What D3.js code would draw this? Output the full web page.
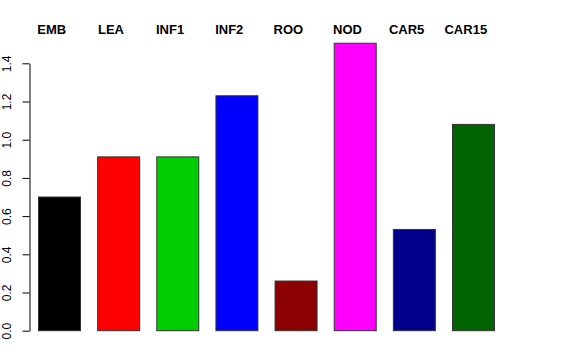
<!DOCTYPE html>
<html>
<head>
<meta charset="utf-8">
<script src="https://cdn.jsdelivr.net/npm/d3@7"></script>
<style>
  body { margin: 0; background: #fff; }
  svg { display: block; font-family: "Liberation Sans", Arial, sans-serif; }
</style>
</head>
<body>
<svg id="chart" width="576" height="360"></svg>
<script>
// Gewebe-Kategorien und Werte
const categories = ['EMB', 'LEA', 'INF1', 'INF2', 'ROO', 'NOD', 'CAR5', 'CAR15'];
const values = [0.70, 0.91, 0.91, 1.23, 0.26, 1.505, 0.53, 1.08];
const barColors = ['#000000', '#ff0000', '#00cd00', '#0000ff', '#8b0000', '#ff00ff', '#00008b', '#006400'];
const yTicks = [0.0, 0.2, 0.4, 0.6, 0.8, 1.0, 1.2, 1.4];

const svg = d3.select('#chart');

// Skalen
const x = d3.scaleBand()
  .domain(categories)
  .range([38.5, 494.5])
  .paddingInner(0.29)
  .paddingOuter(0);

const y = d3.scaleLinear()
  .domain([0, 1.4])
  .range([330.7, 63.3]);

// Balken
svg.selectAll('rect.bar')
  .data(categories)
  .enter()
  .append('rect')
  .attr('class', 'bar')
  .attr('x', d => x(d))
  .attr('y', (d, i) => y(values[i]))
  .attr('width', x.bandwidth())
  .attr('height', (d, i) => y(0) - y(values[i]))
  .attr('fill', (d, i) => barColors[i])
  .attr('stroke', '#333')
  .attr('stroke-width', 1);

// Beschriftung oben (leicht links versetzt, wie im Original)
svg.selectAll('text.cat')
  .data(categories)
  .enter()
  .append('text')
  .attr('class', 'cat')
  .attr('x', d => x(d) + x.bandwidth() / 2 - 7.7)
  .attr('y', 34)
  .attr('text-anchor', 'middle')
  .style('font-weight', 'bold')
  .style('font-size', '13px')
  .text(d => d);

// Y-Achse im R-Stil
const yAxis = d3.axisLeft(y)
  .tickValues(yTicks)
  .tickFormat(d3.format('.1f'))
  .tickSize(7)
  .tickSizeOuter(0)
  .tickPadding(0);

const axisG = svg.append('g')
  .attr('transform', 'translate(29.5,0)')
  .call(yAxis);

axisG.select('.domain').attr('stroke', '#000');
axisG.selectAll('.tick line').attr('stroke', '#000');
axisG.selectAll('.tick text')
  .attr('x', 0)
  .attr('dy', 0)
  .attr('transform', 'translate(-18.5,0) rotate(-90)')
  .attr('text-anchor', 'middle')
  .style('font-size', '12px')
  .style('font-family', '"Liberation Sans", Arial, sans-serif')
  .attr('fill', '#000');
</script>
</body>
</html>
